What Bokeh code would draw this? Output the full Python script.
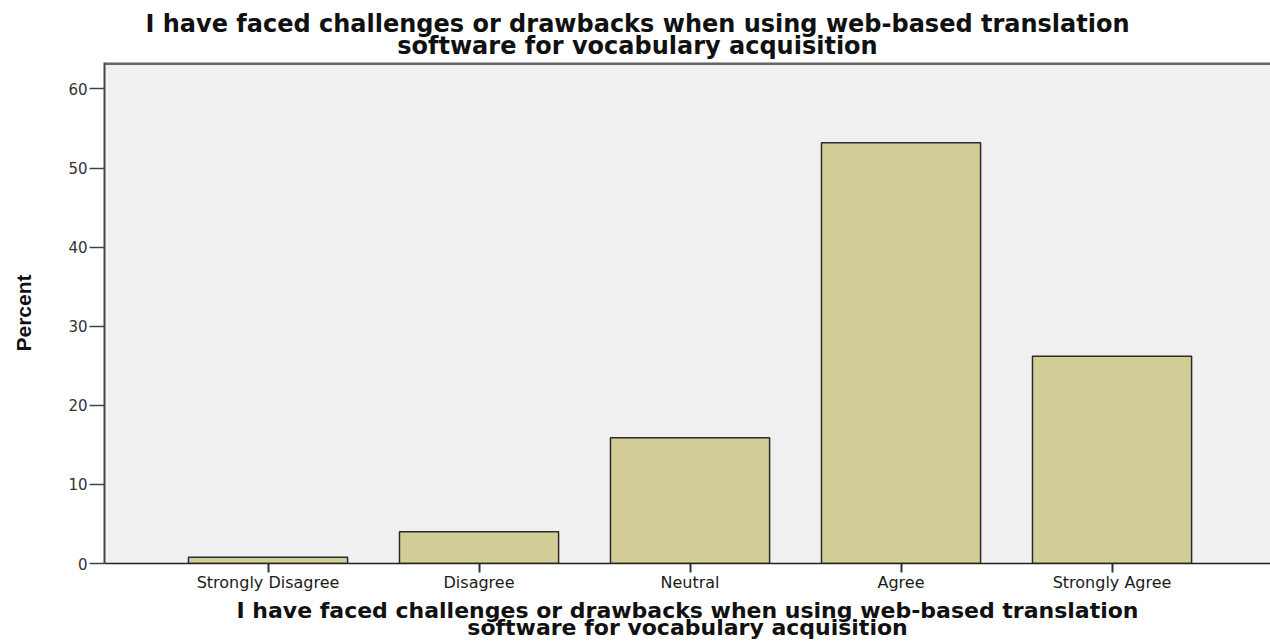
from bokeh.plotting import figure
from bokeh.models import Range1d, FixedTicker, Title, ColumnDataSource, Span
from bokeh.embed import file_html
from bokeh.resources import INLINE

# ---- data ----
categories = ["Strongly Disagree", "Disagree", "Neutral", "Agree", "Strongly Agree"]
percents = [0.8, 4.0, 15.9, 53.2, 26.2]
y_ticks = [0, 10, 20, 30, 40, 50, 60]
title_lines = ["I have faced challenges or drawbacks when using web-based translation",
               "software for vocabulary acquisition"]
x_label_lines = ["I have faced challenges or drawbacks when using web-based translation",
                 "software for vocabulary acquisition"]
y_label = "Percent"

positions = list(range(len(categories)))

# ---- layout ----
W, H = 1270, 641
ML, MR, MT, MB = 104, 0, 62, 78
X0, X1 = -0.775, 4.751
Y0, Y1 = 0, 63.35

p = figure(width=W, height=H, output_backend="svg", toolbar_location=None,
           title=None,
           x_range=Range1d(X0, X1), y_range=Range1d(Y0, Y1),
           min_border_left=ML, min_border_right=MR,
           min_border_top=MT, min_border_bottom=MB)

p.background_fill_color = "#F0F0F0"
p.border_fill_color = "white"
p.outline_line_color = None
p.xgrid.visible = False
p.ygrid.visible = False

# top edge of the plot area (no border on the right, as in the reference)
p.add_layout(Span(location=Y1, dimension="width", line_color="#666666", line_width=5))

src = ColumnDataSource(dict(x=positions, top=percents, cat=categories))
p.vbar(x="x", top="top", bottom=0, width=0.754, source=src,
       fill_color="#D3CE98", line_color="#2a2a2a", line_width=1.5)

# x axis
p.xaxis.ticker = FixedTicker(ticks=positions)
p.xaxis.major_label_overrides = {i: c for i, c in zip(positions, categories)}
p.xaxis.major_tick_out = 9
p.xaxis.major_tick_in = 0
p.xaxis.minor_tick_line_color = None
p.xaxis.axis_line_color = "#222222"
p.xaxis.axis_line_width = 1.5
p.xaxis.major_tick_line_color = "#333333"
p.xaxis.major_tick_line_width = 2
p.xaxis.major_label_text_font = "DejaVu Sans"
p.xaxis.major_label_text_font_size = "16px"
p.xaxis.major_label_text_color = "#1a1a1a"
p.xaxis.major_label_standoff = 0
# first line of the x-axis title as the axis label
p.xaxis.axis_label = x_label_lines[0]
p.xaxis.axis_label_text_font = "DejaVu Sans"
p.xaxis.axis_label_text_font_style = "bold"
p.xaxis.axis_label_text_font_size = "22px"
p.xaxis.axis_label_text_color = "#111111"
p.xaxis.axis_label_standoff = 3
# second line of the x-axis title, centred on the frame like the axis label
p.add_layout(Title(text=x_label_lines[1], align="center", vertical_align="top",
                   text_font="DejaVu Sans", text_font_style="bold",
                   text_font_size="22px", text_color="#111111",
                   standoff=-21), "below")

# y axis
p.yaxis.ticker = FixedTicker(ticks=y_ticks)
p.yaxis.major_tick_out = 15
p.yaxis.major_tick_in = 0
p.yaxis.minor_tick_line_color = None
p.yaxis.axis_line_color = "#444444"
p.yaxis.axis_line_width = 2
p.yaxis.major_tick_line_color = "#444444"
p.yaxis.major_tick_line_width = 1.5
p.yaxis.major_label_text_font = "DejaVu Sans"
p.yaxis.major_label_text_font_size = "15px"
p.yaxis.major_label_text_color = "#333333"
p.yaxis.major_label_standoff = 2
p.yaxis.axis_label = y_label
p.yaxis.axis_label_text_font = "Liberation Sans"
p.yaxis.axis_label_text_font_style = "bold"
p.yaxis.axis_label_text_font_size = "21px"
p.yaxis.axis_label_text_color = "#111111"
p.yaxis.axis_label_standoff = 30

# title: two lines, each left-aligned with an offset so it is centred on the image
title_font_px = 24
title_center = 637
est_widths = [41.0 * title_font_px, 20.02 * title_font_px]  # DejaVu Sans Bold em widths
standoffs = [-23, 6]
# later-added titles sit farther from the frame, so add line 2 first
for line, w, so in reversed(list(zip(title_lines, est_widths, standoffs))):
    p.add_layout(Title(text=line, align="left", offset=title_center - w / 2 - ML,
                       text_font="DejaVu Sans", text_font_style="bold",
                       text_font_size=f"{title_font_px}px", text_color="#111111",
                       standoff=so), "above")

open("out.html", "w").write(file_html(p, INLINE))
